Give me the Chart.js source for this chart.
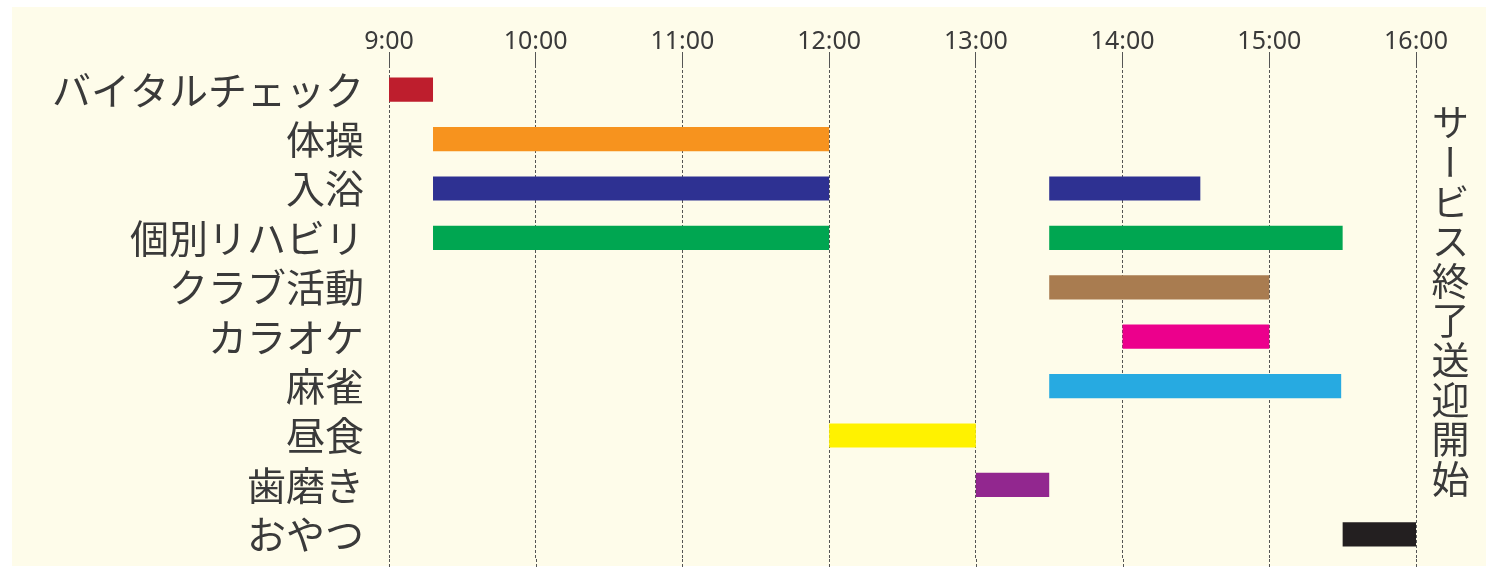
<!DOCTYPE html>
<html>
<head>
<meta charset="utf-8">
<script src="https://cdn.jsdelivr.net/npm/chart.js@4"></script>
<style>
  html, body { margin:0; padding:0; background:#ffffff; }
  #wrap { position:relative; width:1486px; height:567px; overflow:hidden; }
  #bg { position:absolute; left:12px; top:7px; width:1474px; height:559px; background:#fefcea; }
  #c { position:absolute; left:0; top:0; }
  #vt { position:absolute; left:1431px; top:103px; writing-mode:vertical-rl; text-orientation:upright;
        font-family:"Noto Sans CJK JP"; font-size:38px; letter-spacing:1.6px; color:#3a3a3a; line-height:38px; }
</style>
</head>
<body>
<div id="wrap">
  <div id="bg"></div>
  <canvas id="c" width="1486" height="567"></canvas>
  <div id="vt">サービス終了送迎開始</div>
</div>
<script>
const categories = ['バイタルチェック','体操','入浴','個別リハビリ','クラブ活動','カラオケ','麻雀','昼食','歯磨き','おやつ'];
const barColors  = ['#be1e2d','#f7931e','#2e3192','#00a651','#a97c50','#ec008c','#27aae1','#fff200','#92278f','#231f20'];
const firstStart  = [9,   9.3, 9.3, 9.3, 13.5, 14, 13.5, 12, 13,   15.5];
const firstEnd    = [9.3, 12,  12,  12,  15,   15, 15.49, 13, 13.5, 16];
const secondStart = [null, null, 13.5,  13.5, null, null, null, null, null, null];
const secondEnd   = [null, null, 14.53, 15.5, null, null, null, null, null, null];
const tickHours   = [9, 10, 11, 12, 13, 14, 15, 16];
const tickLabels  = ['9:00','10:00','11:00','12:00','13:00','14:00','15:00','16:00'];

const pair = (s, e) => s.map((v, i) => (v === null || e[i] === null) ? null : [v, e[i]]);

const gridExtend = {
  id: 'gridExtend',
  beforeDatasetsDraw(chart) {
    const x = chart.scales.x, a = chart.chartArea, ctx = chart.ctx;
    ctx.save();
    ctx.strokeStyle = '#555555';
    ctx.lineWidth = 1;
    ctx.setLineDash([3, 2]);
    tickHours.forEach(h => {
      const px = Math.round(x.getPixelForValue(h)) + 0.5;
      ctx.beginPath();
      ctx.moveTo(px, a.bottom);
      ctx.lineTo(px, chart.height);
      ctx.stroke();
    });
    ctx.restore();
  }
};

new Chart(document.getElementById('c'), {
  type: 'bar',
  data: {
    labels: categories,
    datasets: [
      { data: pair(firstStart, firstEnd), backgroundColor: barColors },
      { data: pair(secondStart, secondEnd), backgroundColor: barColors }
    ]
  },
  options: {
    responsive: false,
    animation: false,
    indexAxis: 'y',
    layout: { padding: { left: 0, right: 70, top: 0, bottom: 8 } },
    plugins: { legend: { display: false }, tooltip: { enabled: false } },
    datasets: { bar: { grouped: false, barPercentage: 0.49, categoryPercentage: 1, borderSkipped: false } },
    scales: {
      x: {
        type: 'linear', position: 'top', min: 9, max: 16,
        afterBuildTicks: s => { s.ticks = tickHours.map(v => ({ value: v })); },
        afterFit: s => { s.height = 65; s.paddingLeft = 0; s.paddingRight = 0; },
        border: { display: false, dash: [3, 2] },
        grid: { color: '#555555', lineWidth: 1, tickLength: 13, tickColor: '#555555' },
        ticks: {
          padding: -5, color: '#3a3a3a', autoSkip: false, maxRotation: 0,
          font: { family: 'Noto Sans', size: 25 },
          callback: v => tickLabels[tickHours.indexOf(v)]
        }
      },
      y: {
        afterFit: s => { s.width = 389; s.paddingTop = 0; s.paddingBottom = 0; },
        border: { display: false },
        grid: { display: false },
        ticks: { padding: 17, autoSkip: false, color: '#3a3a3a', font: { family: 'Noto Sans CJK JP', size: 39 } }
      }
    }
  },
  plugins: [gridExtend]
});
</script>
</body>
</html>
